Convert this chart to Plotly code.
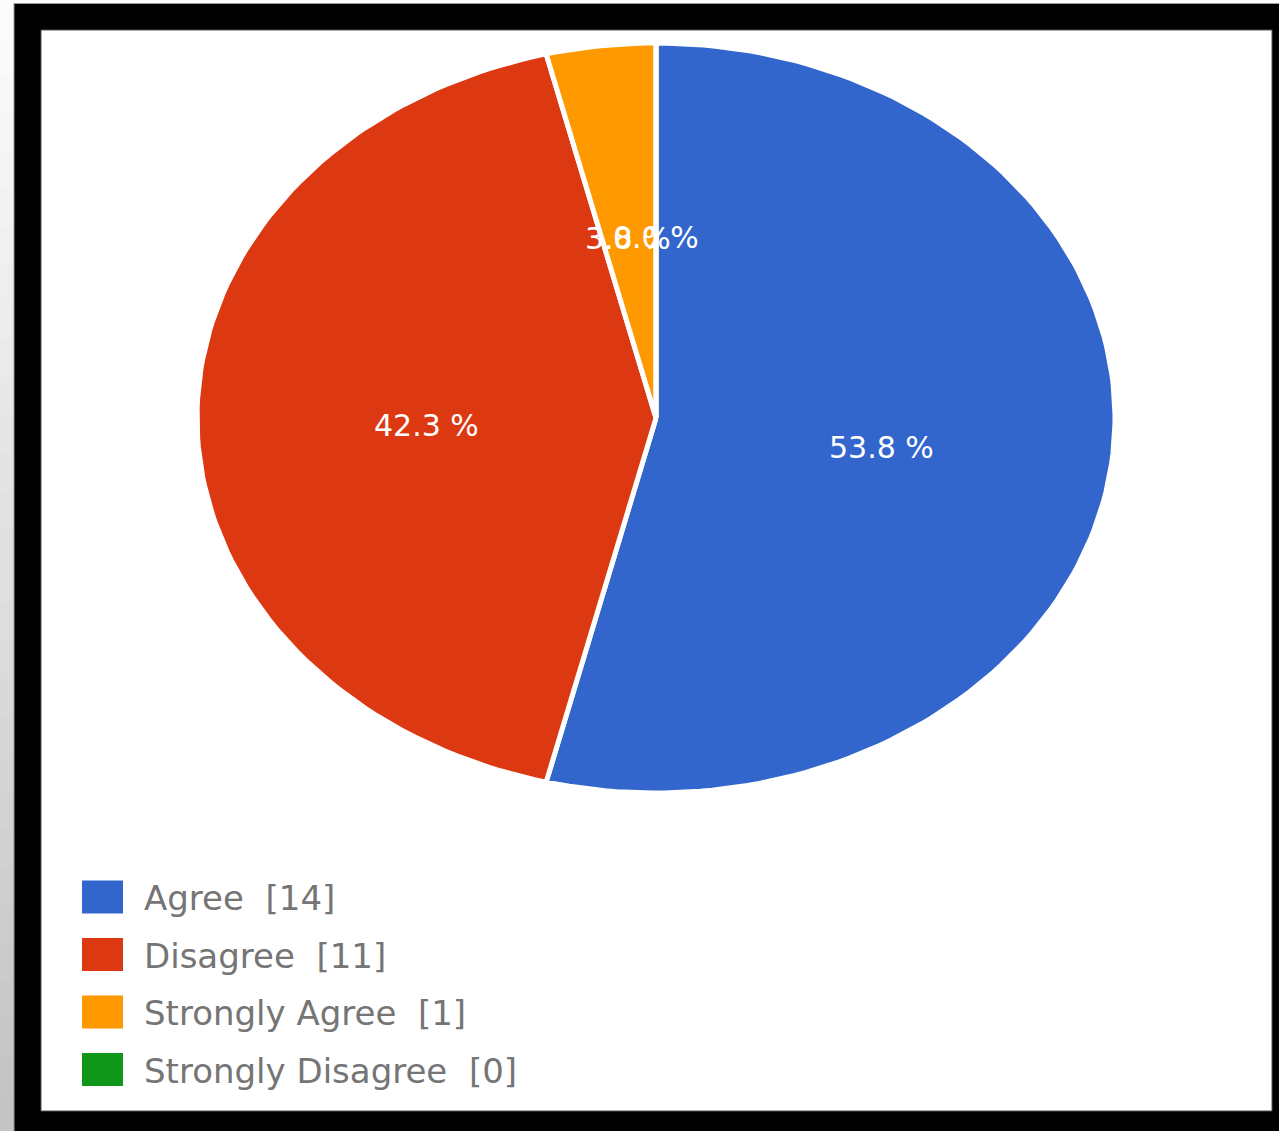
import numpy as np
import plotly.graph_objects as go

# Survey responses
categories = ["Agree", "Disagree", "Strongly Agree", "Strongly Disagree"]
counts = [14, 11, 1, 0]
colors = ["#3366CC", "#DC3912", "#FF9900", "#109618"]

W, H = 1279, 1131

# Pie geometry in page pixels (the pie is drawn as an ellipse)
CX, CY = 656, 418
RX, RY = 459, 375
LABEL_R = 0.5


def wedge(start, end, n=240):
    """Closed polygon for a clockwise wedge starting at 12 o'clock."""
    t = np.linspace(start, end, max(n, 2))
    xs = np.concatenate([[CX], CX + RX * np.sin(t), [CX]])
    ys = np.concatenate([[CY], CY - RY * np.cos(t), [CY]])
    return xs, ys


def span_mid(xs, ys, y0):
    """Middle of the horizontal extent of a polygon along the line y = y0."""
    hits = []
    for i in range(len(xs) - 1):
        x1, y1, x2, y2 = xs[i], ys[i], xs[i + 1], ys[i + 1]
        if (y1 - y0) * (y2 - y0) <= 0:
            if y1 == y2:
                hits += [x1, x2]
            else:
                hits.append(x1 + (y0 - y1) * (x2 - x1) / (y2 - y1))
    return 0.5 * (min(hits) + max(hits)) if hits else CX


fig = go.Figure()

total = sum(counts)
shares = [c / total for c in counts]
angle = 0.0
labels = []
for name, share, col in zip(categories, shares, colors):
    a0, a1 = angle, angle + share * 2 * np.pi
    xs, ys = wedge(a0, a1, n=int(240 * share) + 2)
    fig.add_trace(go.Scatter(
        x=xs, y=ys, mode="lines", fill="toself", fillcolor=col,
        line=dict(color="white", width=5), hoverinfo="skip", showlegend=False,
    ))
    mid = 0.5 * (a0 + a1)
    ly = CY - RY * LABEL_R * np.cos(mid)
    lx = span_mid(xs, ys, ly)
    labels.append((lx, ly, f"{share * 100:.1f} %"))
    angle = a1

for lx, ly, txt in labels:
    fig.add_annotation(
        x=lx, y=ly + 7, text=txt, showarrow=False, xanchor="center", yanchor="middle",
        font=dict(family="DejaVu Sans", size=30, color="#FFFFFF"),
    )

# Legend: swatches and labels
ROW0, ROW_STEP = 897, 57.5
for i, (name, cnt, col) in enumerate(zip(categories, counts, colors)):
    yc = ROW0 + i * ROW_STEP
    fig.add_shape(type="rect", xref="x", yref="y", x0=82, x1=123, y0=yc - 16.5, y1=yc + 16.5,
                  fillcolor=col, line=dict(width=0), layer="above")
    fig.add_annotation(
        x=142, y=yc + 1, text=f"{name}\u00a0\u00a0[{cnt}]", showarrow=False,
        xanchor="left", yanchor="middle",
        font=dict(family="DejaVu Sans", size=34, color="#757575"),
    )

# Page frame: shaded strip on the left, black border, white card
steps = 30
for k in range(steps):
    g = int(252 - (252 - 196) * k / (steps - 1))
    fig.add_shape(type="rect", xref="x", yref="y", x0=0, x1=14,
                  y0=H * k / steps, y1=H * (k + 1) / steps + 1,
                  fillcolor=f"rgb({g},{g},{g})", line=dict(width=0), layer="below")
fig.add_shape(type="rect", xref="x", yref="y", x0=14, x1=W + 2, y0=3.5, y1=H + 2,
              fillcolor="#000000", line=dict(color="#9a9a9a", width=1), layer="below")
fig.add_shape(type="rect", xref="x", yref="y", x0=41, x1=1272, y0=30, y1=1111,
              fillcolor="#FFFFFF", line=dict(color="#555555", width=1), layer="below")

fig.update_layout(
    width=W, height=H,
    margin=dict(l=0, r=0, t=0, b=0),
    paper_bgcolor="#FFFFFF", plot_bgcolor="rgba(0,0,0,0)",
    xaxis=dict(range=[0, W], visible=False, fixedrange=True),
    yaxis=dict(range=[H, 0], visible=False, fixedrange=True),
    showlegend=False,
)

fig.write_html("out.html")
